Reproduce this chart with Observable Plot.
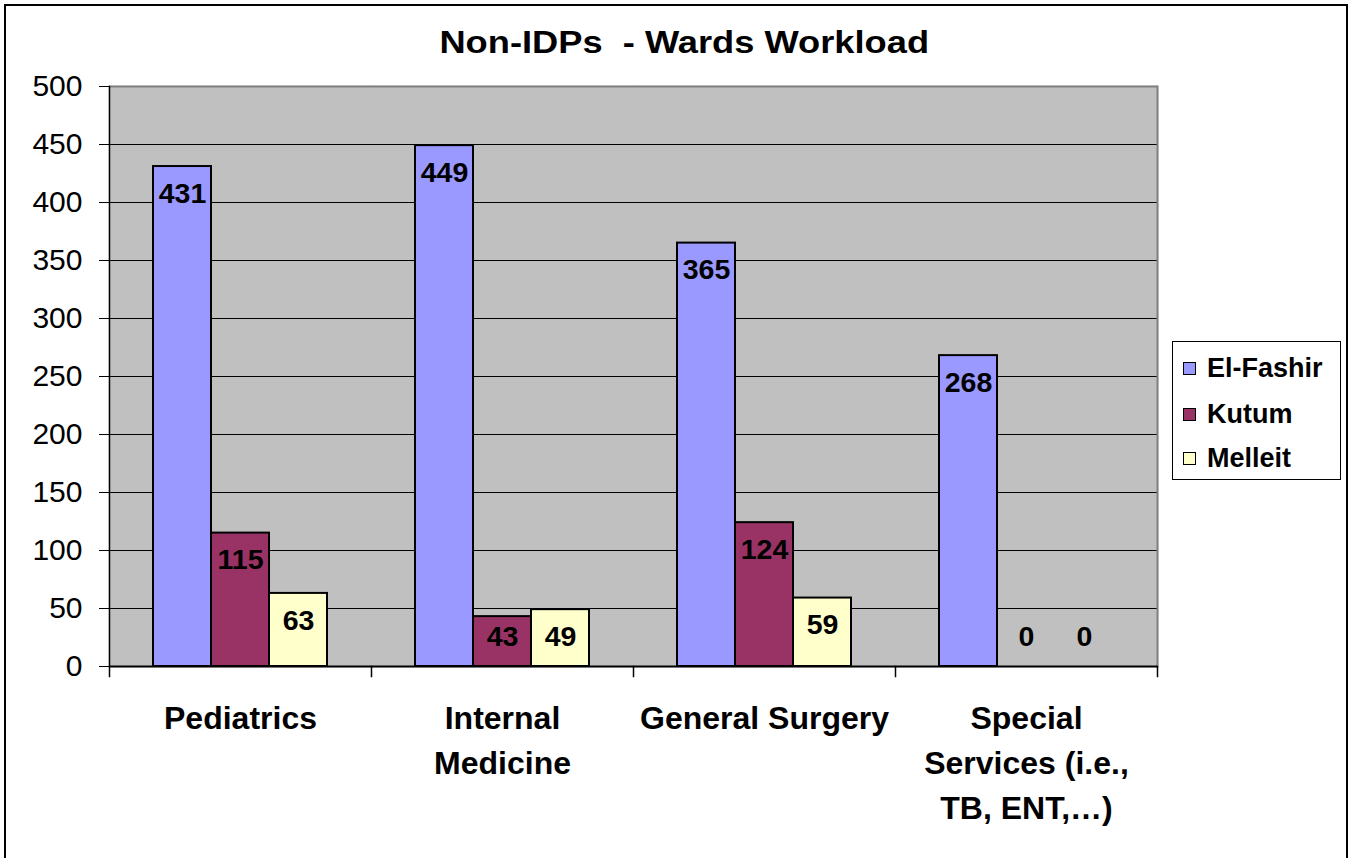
<!DOCTYPE html>
<html><head><meta charset="utf-8">
<script src="https://cdn.jsdelivr.net/npm/d3@7"></script>
<script src="https://cdn.jsdelivr.net/npm/@observablehq/plot@0.6"></script>
<style>
body{margin:0;background:#fff;overflow:hidden;font-family:Arial,"Liberation Sans",sans-serif;}
#wrap{position:relative;width:1349px;height:858px;overflow:hidden;}
#border{position:absolute;left:4px;top:4px;width:1344px;height:900px;border:2.5px solid #000;box-sizing:border-box;}
#chart{position:absolute;left:0;top:0;}
#title{position:absolute;top:27px;left:0;width:1368px;text-align:center;font-size:31px;line-height:31px;font-weight:bold;white-space:pre;}
#title span{display:inline-block;transform:scaleX(1.17);}
#legend{position:absolute;left:1172px;top:341px;width:169px;height:139px;border:1px solid #000;box-sizing:border-box;background:#fff;}
.row{position:absolute;left:0;height:27px;display:flex;align-items:center;font-size:27px;font-weight:bold;}
.sw{width:13px;height:13px;border:1px solid #000;box-sizing:border-box;margin-left:10px;margin-right:11px;}
</style></head>
<body>
<div id="wrap">
  <div id="border"></div>
  <div id="chart"></div>
  <div id="title"><span>Non-IDPs  - Wards Workload</span></div>
  <div id="legend"></div>
</div>
<script>
const categories = ["Pediatrics", "Internal Medicine", "General Surgery", "Special Services (i.e., TB, ENT,…)"];
const categoryLabels = ["Pediatrics", "Internal\nMedicine", "General Surgery", "Special\nServices (i.e.,\nTB, ENT,…)"];
const series = ["El-Fashir", "Kutum", "Melleit"];
const elFashir = [431, 449, 365, 268];
const kutum = [115, 43, 124, 0];
const melleit = [63, 49, 59, 0];
const seriesColors = ["#9999FF", "#993366", "#FFFFCC"];
const yTicks = [0, 50, 100, 150, 200, 250, 300, 350, 400, 450, 500];

const seriesValues = [elFashir, kutum, melleit];
const data = categories.flatMap((c, i) => seriesValues.map((arr, j) => ({category: c, series: series[j], value: arr[i]})));

const plot = Plot.plot({
  width: 1349, height: 858,
  marginTop: 86, marginLeft: 109, marginRight: 192, marginBottom: 192,
  style: {fontFamily: "Arial, 'Liberation Sans', sans-serif", background: "transparent", overflow: "visible", color: "#000"},
  fx: {domain: categories, padding: 0},
  x: {domain: series, paddingInner: 0, paddingOuter: 0.74, axis: null},
  y: {domain: [0, 500], axis: null},
  color: {domain: series, range: seriesColors},
  marks: [
    Plot.frame({fill: "#C0C0C0", stroke: "#C0C0C0", strokeWidth: 1.5}),
    Plot.gridY(yTicks, {stroke: "#000", strokeOpacity: 1, strokeWidth: 1.2}),
    Plot.ruleY([500], {stroke: "#808080", strokeWidth: 2}),
    Plot.frame({anchor: "right", facetAnchor: "right", stroke: "#808080", strokeWidth: 2}),
    Plot.frame({anchor: "left", facetAnchor: "left", stroke: "#000", strokeWidth: 1.5}),
    Plot.barY(data, {fx: "category", x: "series", y: "value", fill: "series", stroke: "#000", strokeWidth: 2}),
    Plot.ruleY([0], {stroke: "#000", strokeWidth: 2}),
    Plot.frame({anchor: "left", insetTop: 580, insetBottom: -10, stroke: "#000", strokeWidth: 1.5}),
    Plot.frame({anchor: "right", facetAnchor: "right", insetTop: 580, insetBottom: -10, stroke: "#000", strokeWidth: 1.5}),
    Plot.text(data, {fx: "category", x: "series", y: d => Math.max(d.value, 49), dy: 27, text: d => String(d.value), fontSize: 28.5, fontWeight: "bold", fill: "#000"}),
    Plot.axisY(yTicks, {tickSize: 10, tickPadding: 17, fontSize: 30, label: null, stroke: "#000", fill: "#000"}),
    Plot.axisFx({anchor: "bottom", tickSize: 0, tickPadding: 31, fontSize: 32, fontWeight: "bold", lineHeight: 1.4, label: null, fill: "#000",
      tickFormat: d => categoryLabels[categories.indexOf(d)]})
  ]
});
document.getElementById("chart").appendChild(plot);

const legend = document.getElementById("legend");
const rowCenters = [26, 72, 116];
series.forEach((s, i) => {
  const row = document.createElement("div");
  row.className = "row";
  row.style.top = (rowCenters[i] - 13.5) + "px";
  const sw = document.createElement("div");
  sw.className = "sw";
  sw.style.background = seriesColors[i];
  const t = document.createElement("span");
  t.textContent = s;
  row.appendChild(sw); row.appendChild(t);
  legend.appendChild(row);
});
</script>
</body></html>
